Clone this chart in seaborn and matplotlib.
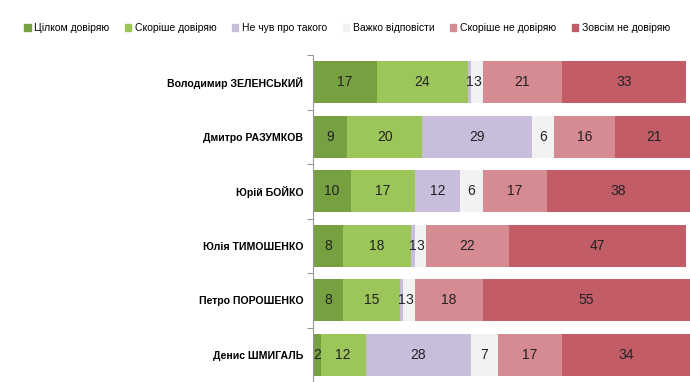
#!/usr/bin/env python3

import pandas as pd
import matplotlib.pyplot as plt
import numpy as np
import seaborn as sns

politicians = [
    "Володимир ЗЕЛЕНСЬКИЙ",
    "Дмитро РАЗУМКОВ",
    "Юрій БОЙКО",
    "Юлія ТИМОШЕНКО",
    "Петро ПОРОШЕНКО",
    "Денис ШМИГАЛЬ",
]
answers = [
    "Цілком довіряю",
    "Скоріше довіряю",
    "Не чув про такого",
    "Важко відповісти",
    "Скоріше не довіряю",
    "Зовсім не довіряю",
]
fully_trust = [17, 9, 10, 8, 8, 2]
rather_trust = [24, 20, 17, 18, 15, 12]
never_heard = [1, 29, 12, 1, 1, 28]
hard_to_say = [3, 6, 6, 3, 3, 7]
rather_distrust = [21, 16, 17, 22, 18, 17]
fully_distrust = [33, 21, 38, 47, 55, 34]

colors = ["#77a040", "#9cc659", "#c8bedb", "#f2f2f2", "#d68a92", "#c25c67"]

series = [fully_trust, rather_trust, never_heard, hard_to_say,
          rather_distrust, fully_distrust]
df = pd.DataFrame(dict(zip(answers, series)), index=politicians)
cum = df.cumsum(axis=1)

plt.rcParams["font.family"] = ["Liberation Sans", "DejaVu Sans"]

fig = plt.figure(figsize=(6.9, 3.82), dpi=100)
ax = fig.add_axes([0.4536, 0.0, 0.5464, 0.856])

# stacked bars: draw cumulative totals from the last segment backwards
for ans, col in reversed(list(zip(answers, colors))):
    sns.barplot(
        x=cum[ans].values,
        y=politicians,
        orient="h",
        color=col,
        width=0.77,
        saturation=1,
        ax=ax,
    )

# segment labels
for i, name in enumerate(politicians):
    for ans in answers:
        v = df.loc[name, ans]
        center = cum.loc[name, ans] - v / 2
        ax.text(center, i, f"{v}", ha="center", va="center",
                fontsize=10, color="#222222")

ax.set_xlim(0, 100)
ax.set_ylim(len(politicians) - 0.5, -0.5)
ax.set_xlabel("")
ax.set_ylabel("")
ax.set_xticks([])
for s in ["top", "right", "bottom"]:
    ax.spines[s].set_visible(False)
ax.spines["left"].set_color("#999999")
ax.spines["left"].set_linewidth(0.8)
ax.set_yticks(np.arange(len(politicians)))
ax.set_yticklabels(politicians, fontsize=7.6, fontweight="bold")
ax.tick_params(axis="y", which="major", length=0, pad=7)
ax.set_yticks(np.arange(len(politicians)) - 0.5, minor=True)
ax.tick_params(axis="y", which="minor", length=4, color="#999999", width=0.8)
ax.set_facecolor("none")

handles = [plt.Rectangle((0, 0), 1, 1, color=c) for c in colors]
fig.legend(handles, answers, loc="center", bbox_to_anchor=(0.503, 0.927),
           ncol=6, frameon=False, fontsize=7.5, handlelength=0.6,
           handleheight=0.6, handletextpad=0.35, columnspacing=1.5)

fig.savefig("out.png", dpi=100)
